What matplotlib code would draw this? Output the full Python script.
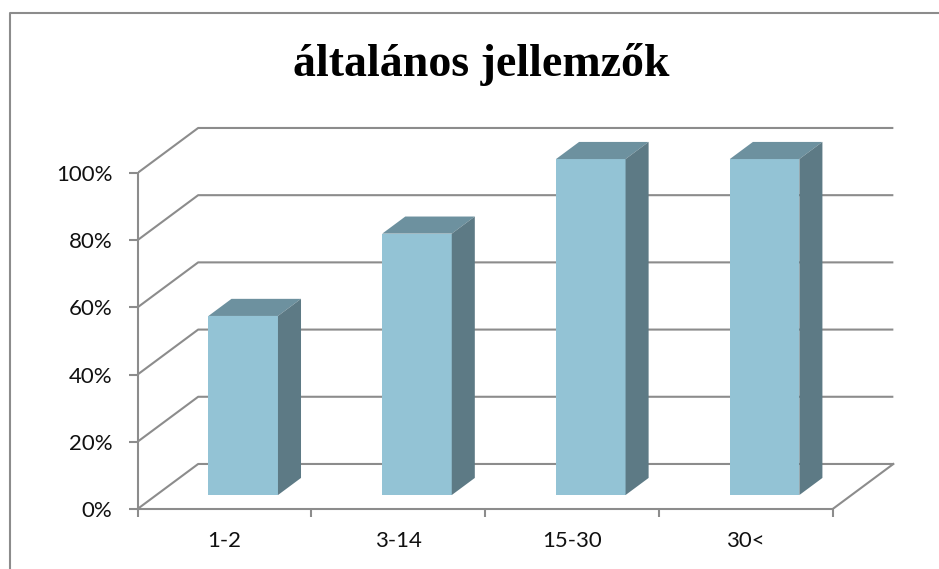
import matplotlib.pyplot as plt
from matplotlib.lines import Line2D
from matplotlib.ticker import FixedLocator, FuncFormatter

# data
categories = ['1-2', '3-14', '15-30', '30<']
values = [53.3, 77.8, 100.0, 100.0]   # percent
yticks = [0, 20, 40, 60, 80, 100]

title = 'általános jellemzők'

# 3d look (in data units)
DX, DY = 0.349, 13.4      # depth of the floor / back wall
F0, F1 = 0.31, 0.69       # bar position inside the depth
BAR_W = 0.40
GRID = '#8c8c8c'
FRONT, TOP, SIDE = '#93c3d5', '#6d919f', '#5d7a85'

fig = plt.figure(figsize=(9.39, 5.69), dpi=100)
ax = fig.add_axes([137.5 / 939, 60 / 569, 762.5 / 939, 389 / 569])
ax.set_xlim(-0.5, -0.5 + 762.5 / 173.8)
ax.set_ylim(0, 389 / 3.36)

n = len(categories)
x0, x1 = -0.5, n - 0.5

# back wall gridlines + diagonals on the side wall
for t in yticks:
    ax.plot([x0, x0 + DX, x1 + DX], [t, t + DY, t + DY], color=GRID, lw=1.5,
            zorder=1, solid_capstyle='butt')
# right edge of the floor
ax.plot([x1, x1 + DX], [0, DY], color=GRID, lw=1.5, zorder=1)

# bars: front face via bar(), top and side faces as polygons
xs = [i + DX * F0 for i in range(n)]
ax.bar(xs, values, width=BAR_W, bottom=DY * F0, color=FRONT, zorder=3)
ddx, ddy = DX * (F1 - F0), DY * (F1 - F0)
for x, v in zip(xs, values):
    l, r = x - BAR_W / 2, x + BAR_W / 2
    b, t = DY * F0, DY * F0 + v
    ax.fill([l, r, r + ddx, l + ddx], [t, t, t + ddy, t + ddy], color=TOP, lw=0, zorder=3)
    ax.fill([r, r + ddx, r + ddx, r], [b, b + ddy, t + ddy, t], color=SIDE, lw=0, zorder=3)

# axes
for s in ['top', 'right']:
    ax.spines[s].set_visible(False)
for s in ['left', 'bottom']:
    ax.spines[s].set_color(GRID)
    ax.spines[s].set_linewidth(1.5)
ax.spines['left'].set_bounds(0, 100)
ax.spines['bottom'].set_bounds(x0, x1)

ax.set_yticks(yticks)
ax.yaxis.set_major_formatter(FuncFormatter(lambda v, p: f'{v:.0f}%'))
ax.tick_params(axis='y', length=6.5, width=1.5, color=GRID, pad=11.5,
               labelsize=16, labelcolor='#111111')

ax.xaxis.set_major_locator(FixedLocator([i - 0.5 for i in range(n + 1)]))
ax.xaxis.set_minor_locator(FixedLocator(list(range(n))))
ax.set_xticklabels([''] * (n + 1))
ax.set_xticklabels(categories, minor=True)
ax.tick_params(axis='x', which='major', length=5.8, width=1.5, color=GRID)
ax.tick_params(axis='x', which='minor', length=0, pad=16, labelsize=16,
               labelcolor='#111111')
for lab in ax.get_yticklabels() + ax.get_xticklabels(minor=True):
    lab.set_family('Lato')

fig.text(481 / 939, 1 - 76 / 569, title, ha='center', va='baseline',
         fontsize=33, fontweight='bold', family='Liberation Serif')

# chart border (top and left edges visible)
fig.add_artist(Line2D([10 / 939, 10 / 939, 1], [0, 1 - 13 / 569, 1 - 13 / 569],
                      transform=fig.transFigure, color=GRID, lw=1.5))

fig.savefig('out.png', dpi=100)
